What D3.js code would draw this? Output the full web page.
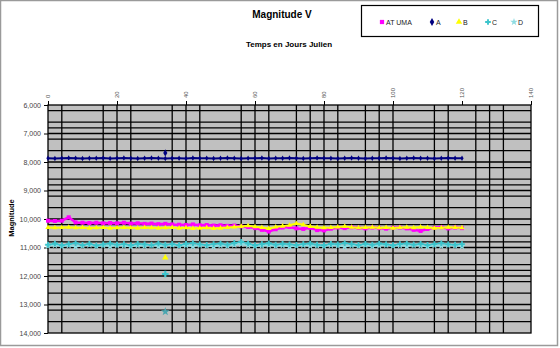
<!DOCTYPE html>
<html>
<head>
<meta charset="utf-8">
<script src="https://cdn.jsdelivr.net/npm/d3@7"></script>
<style>
  body { margin: 0; background: #fff; }
  text { font-family: "Liberation Sans", Arial, sans-serif; }
</style>
</head>
<body>
<div id="chart"></div>
<script>
/*
------------------------------
DATA: julian days (relative) and V magnitudes
------------------------------
*/
const days = [0,2,4,6,8,10,12,14,16,18,20,22,24,26,28,30,32,34,36,38,40,42,44,46,48,50,52,54,56,58,
  60,62,64,66,68,70,72,74,76,78,80,82,84,86,88,90,92,94,96,98,100,102,104,106,108,110,112,114,116,118,120];

const atUma = [10.06,10.07,10.06,9.94,10.12,10.13,10.14,10.13,10.15,10.14,10.15,10.13,10.16,10.15,10.17,10.16,10.18,10.17,
  10.19,10.20,10.21,10.19,10.22,10.21,10.23,10.22,10.24,10.23,10.26,10.28,
  10.32,10.38,10.44,10.36,10.30,10.28,10.33,10.35,10.31,10.39,10.40,10.34,10.30,10.32,10.29,10.31,10.33,10.30,10.32,10.34,
  10.31,10.30,10.33,10.38,10.42,10.35,10.31,10.29,10.33,10.30,10.32];

const starA = [7.87,7.88,7.87,7.86,7.87,7.88,7.87,7.87,7.86,7.88,7.87,7.86,7.87,7.88,7.87,7.86,7.87,7.88,7.87,7.87,
  7.88,7.86,7.87,7.87,7.88,7.87,7.86,7.87,7.88,7.87,7.87,7.86,7.88,7.87,7.87,7.86,7.87,7.88,7.87,7.86,
  7.87,7.87,7.88,7.87,7.86,7.87,7.88,7.87,7.87,7.86,7.87,7.88,7.87,7.86,7.87,7.87,7.88,7.87,7.86,7.87,7.87];

const starB = [10.30,10.31,10.30,10.29,10.31,10.30,10.32,10.31,10.30,10.32,10.31,10.30,10.31,10.32,10.30,10.31,10.32,10.31,
  10.30,10.32,10.31,10.33,10.32,10.31,10.33,10.32,10.30,10.28,10.26,10.24,
  10.27,10.30,10.33,10.28,10.25,10.22,10.16,10.20,10.26,10.29,10.31,10.30,10.28,10.26,10.29,10.31,10.30,10.29,10.31,10.30,
  10.32,10.30,10.29,10.31,10.28,10.30,10.32,10.31,10.29,10.30,10.31];

const starC = [10.90,10.86,10.92,10.88,10.85,10.91,10.87,10.93,10.89,10.86,10.90,10.88,10.92,10.87,10.89,10.91,10.86,10.90,10.88,10.92,
  10.87,10.85,10.89,10.91,10.88,10.86,10.90,10.84,10.80,10.86,10.92,10.88,10.85,10.90,10.87,10.89,10.91,10.88,10.86,10.90,
  10.92,10.87,10.89,10.85,10.88,10.91,10.87,10.90,10.86,10.89,10.92,10.88,10.86,10.90,10.87,10.91,10.88,10.85,10.89,10.90,10.88];

const starD = [10.95,10.92,10.96,10.93,10.97,10.94,10.91,10.95,10.93,10.96,10.92,10.94,10.97,10.93,10.95,10.92,10.96,10.94,10.91,10.95,
  10.93,10.96,10.92,10.94,10.97,10.93,10.95,10.91,10.88,10.93,10.96,10.94,10.92,10.95,10.93,10.97,10.94,10.92,10.95,10.93,
  10.96,10.92,10.94,10.97,10.93,10.95,10.92,10.96,10.94,10.91,10.95,10.93,10.96,10.92,10.94,10.97,10.93,10.95,10.92,10.94,10.96];

// stray measurements on day 34
const strayDay = 34;
const strayA = 7.68, strayB = 11.36, strayC = 11.93, strayD = 13.25;

const xTicks = [0,20,40,60,80,100,120,140];
const yTicks = [6,7,8,9,10,11,12,13,14];
const xGrid = [4,16,20,24,36,40,44,56,60,64,72,76,80,84,92,96,100,112,116,124,128,132];
const yGrid = [6.2,6.6,6.8,7.0,7.2,7.6,8.0,8.2,8.6,8.8,9.0,9.2,9.6,10.0,10.2,10.6,10.8,11.0,11.2,11.6,11.8,12.0,12.2,12.6,13.0,13.2,13.6];

const seriesNames = ["AT UMA", "A", "B", "C", "D"];

/*
------------------------------
METHOD: canvas size and scales
------------------------------
*/
const W = 560, H = 348;
const plot = { left: 48, right: 531, top: 105, bottom: 333 };

const svg = d3.select("#chart").append("svg")
  .attr("width", W).attr("height", H);

// outer frame
svg.append("rect")
  .attr("x", 0.5).attr("y", 0.5).attr("width", 557).attr("height", 345)
  .attr("fill", "#fff").attr("stroke", "#9a9a9a").attr("stroke-width", 1.5);

const x = d3.scaleLinear().domain([0, 140]).range([plot.left, plot.right]);
const y = d3.scaleLinear().domain([6, 14]).range([plot.top, plot.bottom]);

// plot background
svg.append("rect")
  .attr("x", plot.left).attr("y", plot.top)
  .attr("width", plot.right - plot.left).attr("height", plot.bottom - plot.top)
  .attr("fill", "#c0c0c0");

// gridlines
svg.append("g").selectAll("line").data(xGrid).join("line")
  .attr("x1", d => x(d)).attr("x2", d => x(d))
  .attr("y1", plot.top).attr("y2", plot.bottom)
  .attr("stroke", "#000").attr("stroke-width", 1.3);

svg.append("g").selectAll("line").data(yGrid).join("line")
  .attr("x1", plot.left).attr("x2", plot.right)
  .attr("y1", d => y(d)).attr("y2", d => y(d))
  .attr("stroke", "#000").attr("stroke-width", 1.3);

svg.append("rect")
  .attr("x", plot.left).attr("y", plot.top)
  .attr("width", plot.right - plot.left).attr("height", plot.bottom - plot.top)
  .attr("fill", "none").attr("stroke", "#000").attr("stroke-width", 1.3);

// axes
const fr = d3.formatLocale({ decimal: ",", thousands: " ", grouping: [3], currency: ["", ""] });
const yAxis = d3.axisLeft(y).tickValues(yTicks).tickSize(4).tickFormat(fr.format(".3f"));
const gy = svg.append("g").attr("transform", `translate(${plot.left},0)`).call(yAxis);
gy.select(".domain").remove();
gy.selectAll("line").attr("stroke", "#000");
gy.selectAll("text").attr("font-size", 7).attr("fill", "#444")
  .attr("font-family", "Liberation Sans, Arial, sans-serif");

const xAxis = d3.axisTop(x).tickValues(xTicks).tickSize(4).tickFormat(d3.format("d"));
const gx = svg.append("g").attr("transform", `translate(0,${plot.top})`).call(xAxis);
gx.select(".domain").remove();
gx.selectAll("line").attr("stroke", "#000");
gx.selectAll("text")
  .attr("font-size", 6).attr("fill", "#555")
  .attr("font-family", "Liberation Sans, Arial, sans-serif")
  .attr("transform", "rotate(-90)")
  .attr("text-anchor", "start")
  .attr("x", 7).attr("y", 0).attr("dy", "0.32em");

/*
------------------------------
METHOD: series
------------------------------
*/
const series = [
  { name: seriesNames[0], values: atUma, color: "#ff00ff", shape: d3.symbolSquare, size: 16, lw: 2.5, stray: null },
  { name: seriesNames[1], values: starA, color: "#000080", shape: d3.symbolDiamond, size: 9, lw: 2, stray: strayA },
  { name: seriesNames[2], values: starB, color: "#ffff00", shape: d3.symbolTriangle, size: 12, lw: 2, stray: strayB },
  { name: seriesNames[3], values: starC, color: "#3cc4cc", shape: d3.symbolCross, size: 18, lw: 1.5, stray: strayC },
  { name: seriesNames[4], values: starD, color: "#8fdce2", shape: d3.symbolStar, size: 18, lw: 1.5, stray: strayD }
];

// draw back to front so AT UMA sits on top of B like in the original
const drawOrder = [4, 3, 1, 0, 2];
const line = d3.line().x((d, i) => x(days[i])).y(d => y(d));

drawOrder.forEach(k => {
  const s = series[k];
  const g = svg.append("g");
  g.append("path")
    .attr("d", line(s.values))
    .attr("fill", "none").attr("stroke", s.color).attr("stroke-width", s.lw);
  g.selectAll("path.m").data(s.values).join("path")
    .attr("class", "m")
    .attr("transform", (d, i) => `translate(${x(days[i])},${y(d)})`)
    .attr("d", d3.symbol(s.shape, s.size))
    .attr("fill", s.color);
  if (s.stray !== null) {
    g.append("path")
      .attr("transform", `translate(${x(strayDay)},${y(s.stray)})`)
      .attr("d", d3.symbol(s.shape, s.size + 6))
      .attr("fill", k === 4 ? "#4aa6b0" : s.color);
  }
});

/*
------------------------------
METHOD: titles and legend
------------------------------
*/
svg.append("text").attr("x", 282).attr("y", 18).attr("text-anchor", "middle")
  .attr("font-size", 10).attr("font-weight", "bold").text("Magnitude V");
svg.append("text").attr("x", 289).attr("y", 47).attr("text-anchor", "middle")
  .attr("font-size", 8).attr("font-weight", "bold").text("Temps en Jours Julien");
svg.append("text").attr("transform", "translate(14,218) rotate(-90)").attr("text-anchor", "middle")
  .attr("font-size", 7.5).attr("font-weight", "bold").text("Magnitude");

svg.append("rect").attr("x", 361.5).attr("y", 5.5).attr("width", 177).attr("height", 31)
  .attr("fill", "#fff").attr("stroke", "#000").attr("stroke-width", 1.2);

const legendX = [382, 432, 459, 488, 514];
const legend = svg.append("g").selectAll("g").data(series).join("g")
  .attr("transform", (d, i) => `translate(${legendX[i]},22)`);
legend.append("path")
  .attr("d", d => d3.symbol(d.shape, 18)())
  .attr("fill", d => d.color);
legend.append("text").attr("x", 4).attr("y", 2.5)
  .attr("font-size", 7).attr("fill", "#222").text(d => d.name);
</script>
</body>
</html>
